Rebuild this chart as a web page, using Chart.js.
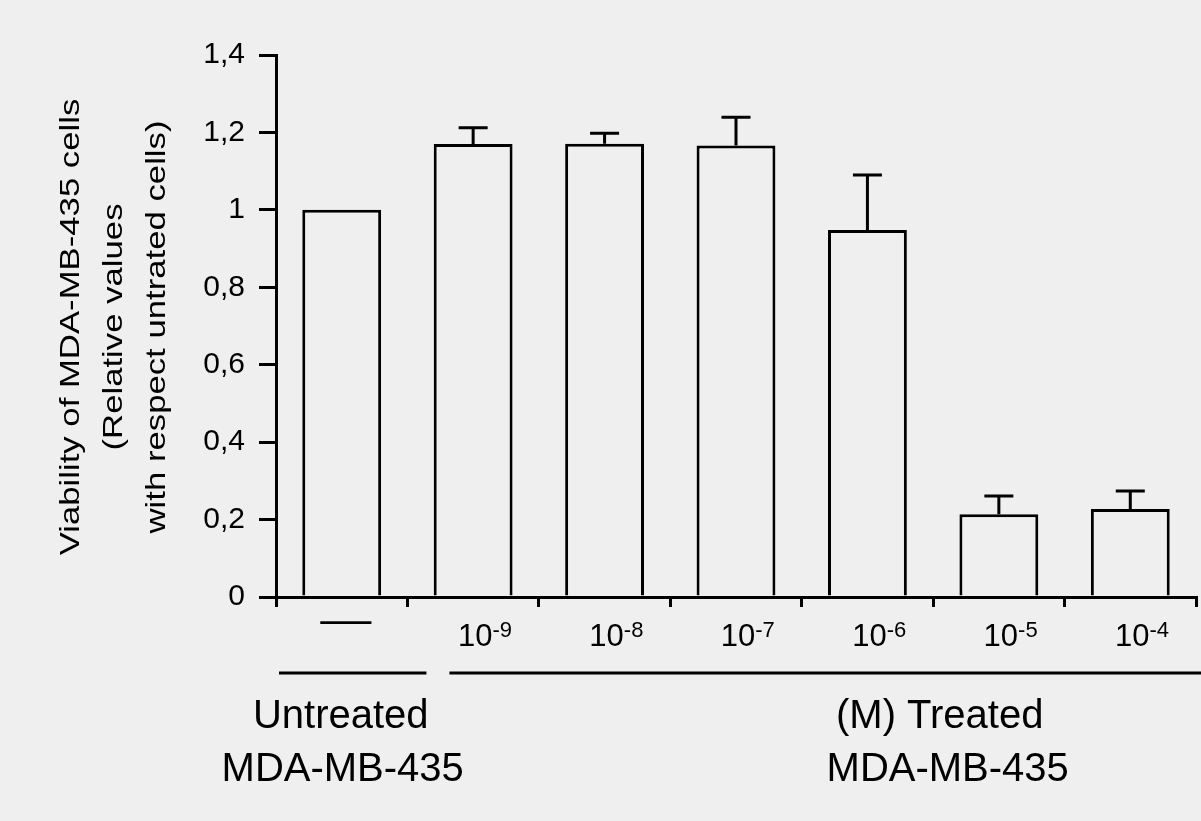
<!DOCTYPE html>
<html>
<head>
<meta charset="utf-8">
<script src="https://cdn.jsdelivr.net/npm/chart.js@4.4.1/dist/chart.umd.min.js"></script>
<style>
html,body{margin:0;padding:0;background:#efefef;}
#wrap{width:1201px;height:821px;position:relative;}
canvas{display:block;}
</style>
</head>
<body>
<div id="wrap"><canvas id="c" width="1201" height="821"></canvas></div>
<script>
// ---- data ----
const categories = ['Untreated', '1e-9', '1e-8', '1e-7', '1e-6', '1e-5', '1e-4'];
const tickBase = ['\u2014', '10', '10', '10', '10', '10', '10'];
const tickExp = ['', '-9', '-8', '-7', '-6', '-5', '-4'];
const viability = [1.00, 1.170, 1.171, 1.166, 0.948, 0.214, 0.227];
const viabilitySD = [0, 0.042, 0.027, 0.073, 0.142, 0.047, 0.047];
const yTickValues = [0, 0.2, 0.4, 0.6, 0.8, 1.0, 1.2, 1.4];
const yTitleLines = ['Viability of MDA-MB-435 cells', '(Relative values', 'with respect untrated cells)'];
const groupUntreated = ['Untreated', 'MDA-MB-435'];
const groupTreated = ['(M) Treated', 'MDA-MB-435'];

const FONT = "'Liberation Sans', Arial, Helvetica, sans-serif";
const BG = '#efefef';

const bgPlugin = {
  id: 'bg',
  beforeDraw(chart) {
    const ctx = chart.ctx;
    ctx.save();
    ctx.fillStyle = BG;
    ctx.fillRect(0, 0, chart.width, chart.height);
    ctx.restore();
  }
};

const errPlugin = {
  id: 'errbars',
  afterDatasetsDraw(chart) {
    const ctx = chart.ctx;
    const y = chart.scales.y;
    const meta = chart.getDatasetMeta(0);
    ctx.save();
    ctx.strokeStyle = '#000';
    ctx.lineWidth = 3;
    ctx.lineCap = 'butt';
    meta.data.forEach((bar, i) => {
      const sd = viabilitySD[i];
      if (!sd) return;
      const x = bar.x;
      const y0 = y.getPixelForValue(viability[i]);
      const y1 = y.getPixelForValue(viability[i] + sd);
      ctx.beginPath();
      ctx.moveTo(x, y0);
      ctx.lineTo(x, y1);
      ctx.moveTo(x - 14.5, y1);
      ctx.lineTo(x + 14.5, y1);
      ctx.stroke();
    });
    ctx.restore();
  }
};

const labelPlugin = {
  id: 'labels',
  afterDraw(chart) {
    const ctx = chart.ctx;
    const xs = chart.scales.x;
    const area = chart.chartArea;
    const bottom = area.bottom;
    const catW = (area.right - area.left) / categories.length;
    ctx.save();
    ctx.fillStyle = '#000';
    ctx.strokeStyle = '#000';
    // x tick labels with superscripts
    categories.forEach((c, i) => {
      const cx = xs.getPixelForValue(i);
      if (tickExp[i] === '') {
        ctx.save();
        ctx.font = '31px ' + FONT;
        ctx.textAlign = 'center';
        ctx.textBaseline = 'alphabetic';
        ctx.translate(cx + 4, bottom + 36);
        ctx.scale(1.65, 1.4);
        ctx.fillText(tickBase[i], 0, 0);
        ctx.restore();
        return;
      }
      ctx.font = '31px ' + FONT;
      ctx.textBaseline = 'alphabetic';
      ctx.textAlign = 'center';
      const w = ctx.measureText(tickBase[i]).width;
      ctx.fillText(tickBase[i], cx + 2, bottom + 49);
      ctx.font = '22px ' + FONT;
      ctx.textAlign = 'left';
      ctx.fillText(tickExp[i], cx + 2 + w / 2, bottom + 40);
    });
    // group lines
    ctx.lineWidth = 3;
    const b1 = area.left + catW; // boundary between untreated and treated
    const ly = bottom + 76;
    ctx.beginPath();
    ctx.moveTo(area.left + 3, ly);
    ctx.lineTo(b1 + 19, ly);
    ctx.moveTo(b1 + 42, ly);
    ctx.lineTo(chart.width, ly);
    ctx.stroke();
    // group texts
    ctx.font = '40px ' + FONT;
    ctx.textAlign = 'center';
    ctx.textBaseline = 'alphabetic';
    const ux = xs.getPixelForValue(0);
    ctx.fillText(groupUntreated[0], ux - 1, bottom + 131);
    ctx.fillText(groupUntreated[1], ux + 1, bottom + 184);
    const tx = xs.getPixelForValue(4) + 0.55 * catW;
    ctx.fillText(groupTreated[0], tx, bottom + 131);
    ctx.fillText(groupTreated[1], tx + 8, bottom + 184);
    // y-axis title (rotated, 3 lines)
    const cy = 327;
    const baseXs = [79, 122, 165];
    ctx.font = '28px ' + FONT;
    yTitleLines.forEach((t, i) => {
      ctx.save();
      ctx.translate(baseXs[i], cy);
      ctx.rotate(-Math.PI / 2);
      ctx.scale(1.24, 1);
      ctx.textAlign = 'center';
      ctx.textBaseline = 'alphabetic';
      ctx.fillText(t, 0, 0);
      ctx.restore();
    });
    ctx.restore();
  }
};

new Chart(document.getElementById('c'), {
  type: 'bar',
  data: {
    labels: categories,
    datasets: [{
      data: viability,
      backgroundColor: BG,
      borderColor: '#000',
      borderWidth: 3,
      borderSkipped: 'bottom',
      barPercentage: 0.6,
      categoryPercentage: 1.0
    }]
  },
  options: {
    responsive: false,
    devicePixelRatio: 1,
    animation: false,
    layout: { padding: { top: 55, right: 5, left: 0, bottom: 0 } },
    plugins: { legend: { display: false }, tooltip: { enabled: false }, title: { display: false } },
    scales: {
      x: {
        type: 'category',
        grid: { display: true, drawOnChartArea: false, drawTicks: true, tickLength: 10, color: '#000', lineWidth: 3, offset: true },
        border: { display: true, color: '#000', width: 3 },
        ticks: { display: false },
        afterFit(s) { s.height = 224; }
      },
      y: {
        min: 0,
        max: 1.4,
        afterBuildTicks(s) { s.ticks = yTickValues.map(v => ({ value: v })); },
        grid: { display: true, drawOnChartArea: false, drawTicks: true, tickLength: 17, color: '#000', lineWidth: 3 },
        border: { display: true, color: '#000', width: 3 },
        ticks: {
          color: '#000',
          font: { size: 30, family: FONT },
          padding: 14,
          callback: v => String(Math.round(v * 10) / 10).replace('.', ',')
        },
        afterFit(s) { s.width = 276; }
      }
    }
  },
  plugins: [bgPlugin, errPlugin, labelPlugin]
});
</script>
</body>
</html>
